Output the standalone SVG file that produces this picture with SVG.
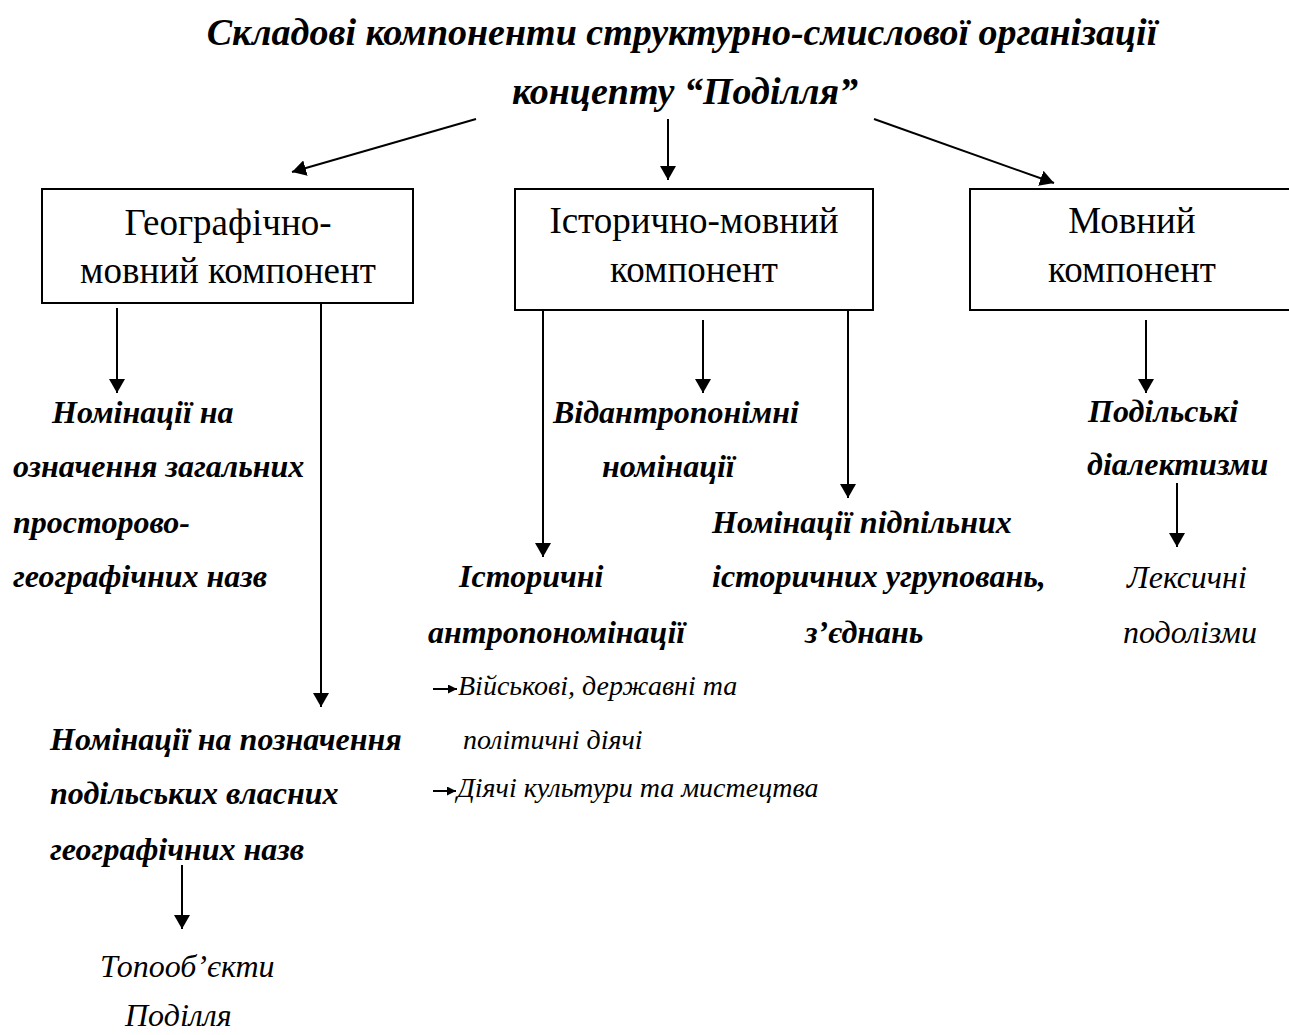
<svg xmlns="http://www.w3.org/2000/svg" width="1289" height="1035" viewBox="0 0 1289 1035">
<style>
text{font-family:"Liberation Serif","Times New Roman",serif;fill:#000}
.title{font-size:38px;font-weight:bold;font-style:italic;text-anchor:middle}
.box{fill:#fff;stroke:#000;stroke-width:2}
.bt{font-size:37px;text-anchor:middle}
.bi{font-size:32px;font-weight:bold;font-style:italic}
.it{font-size:32px;font-style:italic}
.sm{font-size:28px;font-style:italic}
.ln{stroke:#000;stroke-width:2;fill:none}
.ar{marker-end:url(#ah)}
.as{marker-end:url(#ahs)}
</style>
<defs>
<marker id="ah" viewBox="0 0 14 16" markerWidth="14" markerHeight="16" refX="14" refY="8" orient="auto" markerUnits="userSpaceOnUse"><path d="M0,0 L14,8 L0,16 z" fill="#000"/></marker>
<marker id="ahs" viewBox="0 0 9 9" markerWidth="9" markerHeight="9" refX="9" refY="4.5" orient="auto" markerUnits="userSpaceOnUse"><path d="M0,0 L9,4.5 L0,9 z" fill="#000"/></marker>
</defs>
<rect width="1289" height="1035" fill="#fff"/>
<g id="title">
<text class="title" x="682" y="45">Складові компоненти структурно-смислової організації</text>
<text class="title" x="685" y="104">концепту “Поділля”</text>
</g>
<g id="connectors">
<line class="ln ar" x1="476" y1="119" x2="292" y2="172"/>
<line class="ln ar" x1="668" y1="119" x2="668" y2="180"/>
<line class="ln ar" x1="874" y1="119" x2="1054" y2="183"/>
<line class="ln ar" x1="117" y1="308" x2="117" y2="393"/>
<line class="ln ar" x1="321" y1="303" x2="321" y2="707"/>
<line class="ln ar" x1="543" y1="310" x2="543" y2="557"/>
<line class="ln ar" x1="703" y1="320" x2="703" y2="393"/>
<line class="ln ar" x1="848" y1="310" x2="848" y2="498"/>
<line class="ln ar" x1="1146" y1="320" x2="1146" y2="393"/>
<line class="ln ar" x1="1177" y1="483" x2="1177" y2="547"/>
<line class="ln ar" x1="182" y1="865" x2="182" y2="929"/>
<line class="ln as" x1="433" y1="689" x2="457" y2="689"/>
<line class="ln as" x1="433" y1="791" x2="456" y2="791"/>
</g>
<g id="n-geo">
<rect class="box" x="42" y="189" width="371" height="114"/>
<text class="bt" x="228" y="235">Географічно-</text>
<text class="bt" x="228" y="283">мовний компонент</text>
</g>
<g id="n-hist">
<rect class="box" x="515" y="189" width="358" height="121"/>
<text class="bt" x="694" y="233">Історично-мовний</text>
<text class="bt" x="694" y="282">компонент</text>
</g>
<g id="n-lang">
<rect class="box" x="970" y="189" width="330" height="121"/>
<text class="bt" x="1132" y="233">Мовний</text>
<text class="bt" x="1132" y="282">компонент</text>
</g>
<g id="n-general">
<text class="bi" x="52" y="423">Номінації на</text>
<text class="bi" x="13" y="477">означення загальних</text>
<text class="bi" x="13" y="533">просторово-</text>
<text class="bi" x="13" y="587">географічних назв</text>
</g>
<g id="n-own">
<text class="bi" x="50" y="750">Номінації на позначення</text>
<text class="bi" x="50" y="804">подільських власних</text>
<text class="bi" x="50" y="860">географічних назв</text>
</g>
<g id="n-topo">
<text class="it" x="100" y="977">Топооб’єкти</text>
<text class="it" x="125" y="1026">Поділля</text>
</g>
<g id="n-vidantr">
<text class="bi" x="553" y="423">Відантропонімні</text>
<text class="bi" x="602" y="477">номінації</text>
</g>
<g id="n-histantr">
<text class="bi" x="459" y="587">Історичні</text>
<text class="bi" x="428" y="643">антропономінації</text>
</g>
<g id="n-military">
<text class="sm" x="458" y="695">Військові, державні та</text>
<text class="sm" x="463" y="749">політичні діячі</text>
</g>
<g id="n-culture">
<text class="sm" x="457" y="797">Діячі культури та мистецтва</text>
</g>
<g id="n-underground">
<text class="bi" x="712" y="533">Номінації підпільних</text>
<text class="bi" x="712" y="587">історичних угруповань,</text>
<text class="bi" x="805" y="643">з’єднань</text>
</g>
<g id="n-dialect">
<text class="bi" x="1088" y="422">Подільські</text>
<text class="bi" x="1087" y="475">діалектизми</text>
</g>
<g id="n-lexical">
<text class="it" x="1127" y="588">Лексичні</text>
<text class="it" x="1123" y="643">подолізми</text>
</g>
</svg>
